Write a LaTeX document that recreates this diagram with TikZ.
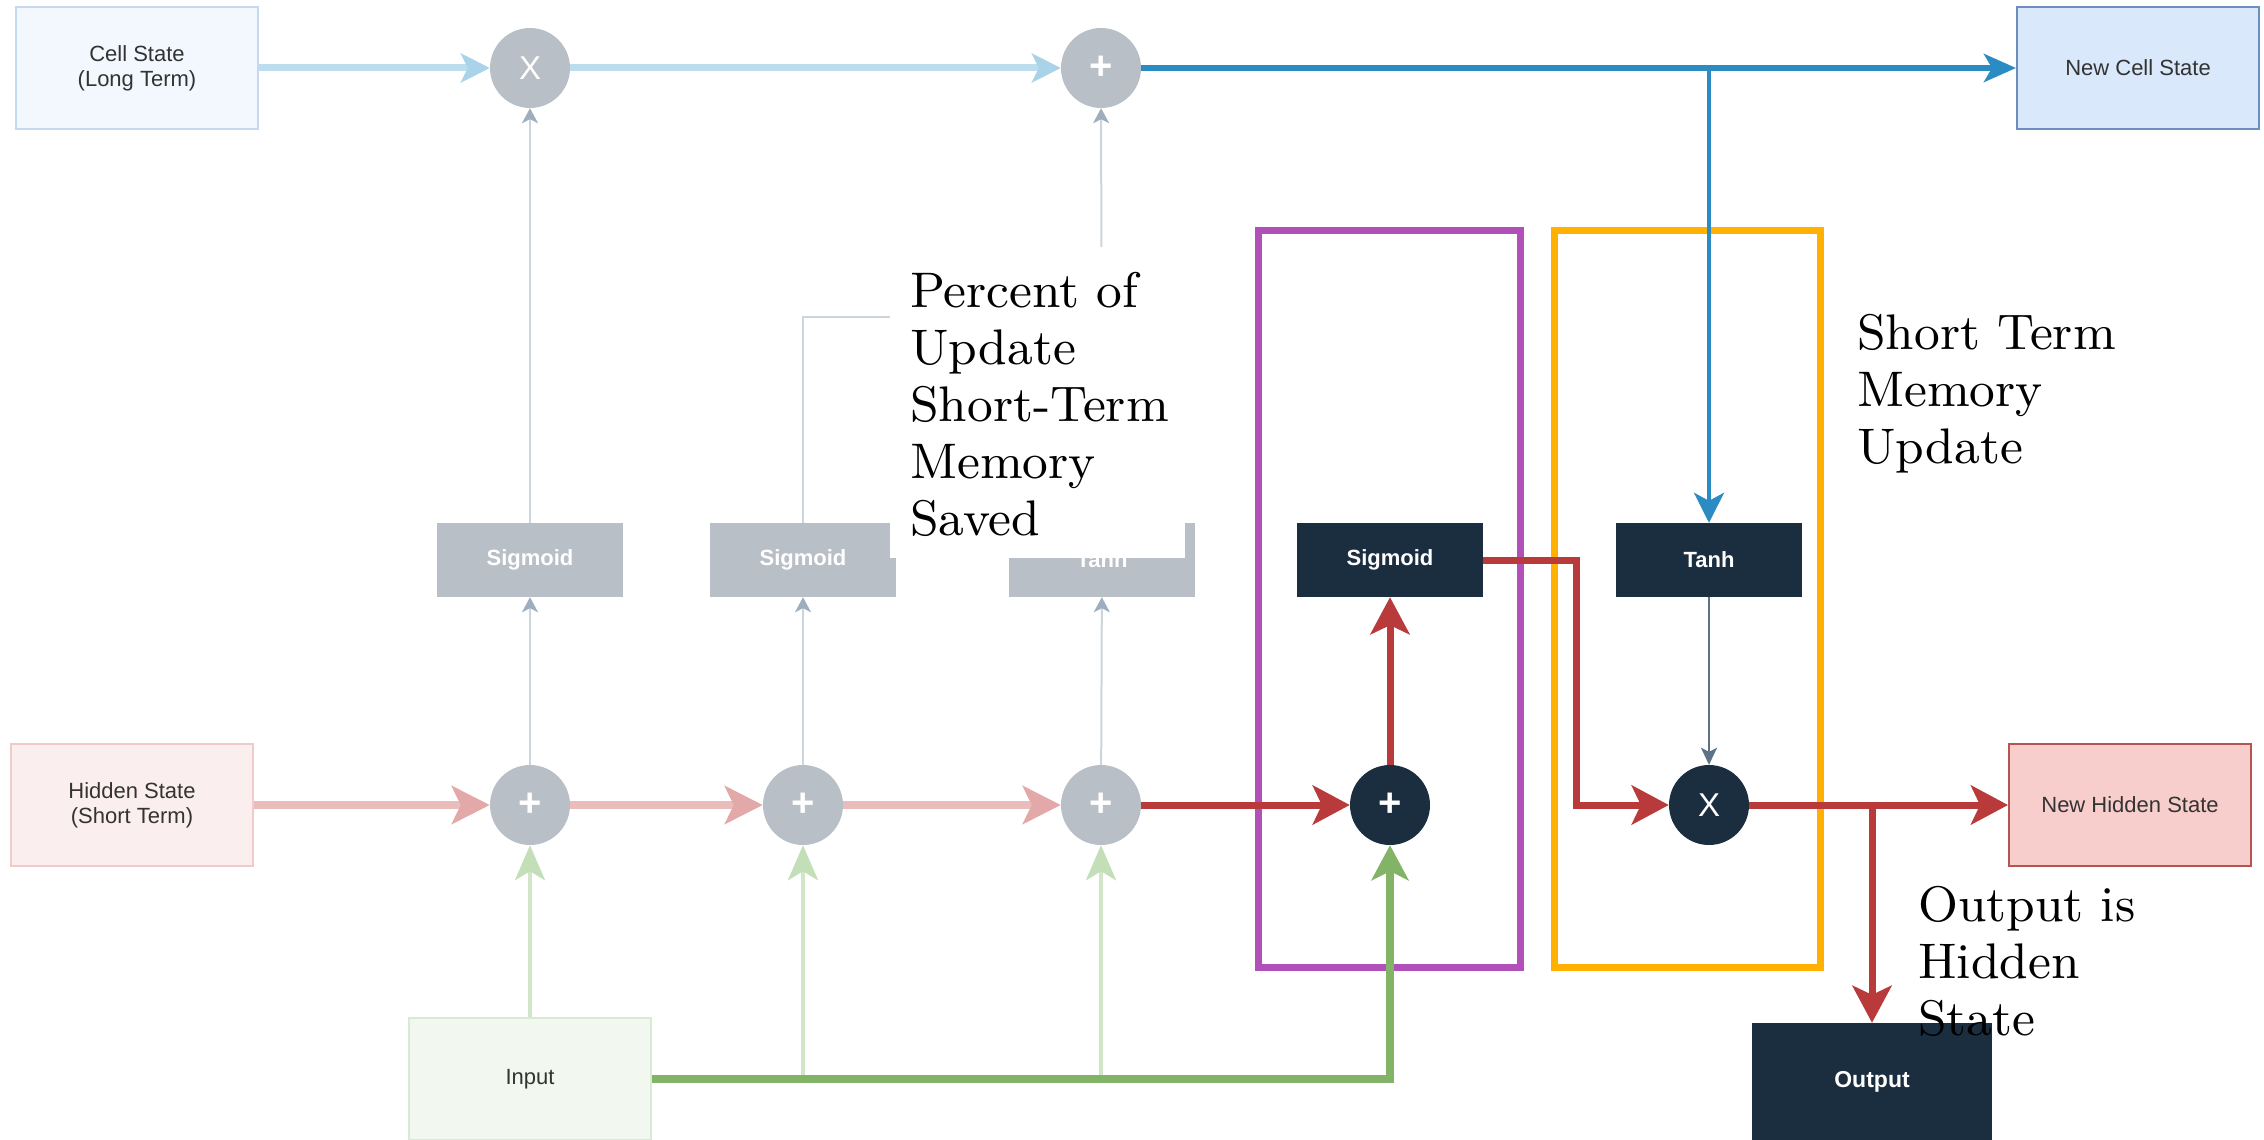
\documentclass[tikz,border=0pt]{standalone}
\usepackage{fontspec}
\newfontfamily\arialf{Liberation Sans}
\newfontfamily\notefont{lmroman9-regular.otf}
\usetikzlibrary{arrows.meta}
\definecolor{navy}{HTML}{1B2E3F}
\definecolor{gatecol}{HTML}{B8BFC6}
\definecolor{lbluec}{HTML}{BCDDED}
\definecolor{lbluetip}{HTML}{A8D3E9}
\definecolor{dbluec}{HTML}{2B8CC4}
\definecolor{lredc}{HTML}{EBBCBC}
\definecolor{lredtip}{HTML}{E3A9A9}
\definecolor{dredc}{HTML}{B83A3A}
\definecolor{lgreenc}{HTML}{D1E6C9}
\definecolor{lgreentip}{HTML}{C3DFB8}
\definecolor{dgreenc}{HTML}{82B366}
\definecolor{glinec}{HTML}{CCD4DC}
\definecolor{gtipc}{HTML}{9EAEBE}
\definecolor{slatec}{HTML}{5E7286}
\definecolor{purplec}{HTML}{B050B8}
\definecolor{orangec}{HTML}{FFB000}
\definecolor{cellfill}{HTML}{F3F8FE}
\definecolor{celldraw}{HTML}{C5DAEF}
\definecolor{ncellfill}{HTML}{DAE8FC}
\definecolor{ncelldraw}{HTML}{6C8EBF}
\definecolor{hidfill}{HTML}{FBEEEE}
\definecolor{hiddraw}{HTML}{F1CBCA}
\definecolor{nhidfill}{HTML}{F8CECC}
\definecolor{nhiddraw}{HTML}{B85450}
\definecolor{infill}{HTML}{F2F8F0}
\definecolor{indraw}{HTML}{D7EAD3}
\definecolor{txtgray}{HTML}{333333}
\begin{document}
\begin{tikzpicture}[x=1pt,y=-1pt,
  statebox/.style={draw, line width=2pt, minimum width=242pt, minimum height=122pt, inner sep=0pt,
    font=\arialf\fontsize{22}{25}\selectfont, text=txtgray, align=center},
  gatebox/.style={minimum width=186pt, minimum height=74pt, inner sep=0pt,
    font=\arialf\bfseries\fontsize{22}{25}\selectfont, text=white},
  fadedgate/.style={gatebox, fill=gatecol},
  darkgate/.style={gatebox, fill=navy},
  opcirc/.style={circle, minimum size=80pt, inner sep=0pt, text=white},
  plusfont/.style={font=\arialf\bfseries\fontsize{40}{40}\selectfont},
  xfont/.style={font=\arialf\fontsize{33}{33}\selectfont},
  note/.style={anchor=north west, inner sep=0pt, align=left, font=\notefont\fontsize{50}{57}\selectfont},
  hlbox/.style={line width=7pt},
  lblue/.style={draw=lbluec, line width=7pt, -{Stealth[length=29pt,width=29pt,inset=7pt,color=lbluetip]}},
  dblue/.style={draw=dbluec, line width=6pt, -{Stealth[length=32pt,width=28pt,inset=8pt]}},
  dbluethin/.style={draw=dbluec, line width=4pt, -{Stealth[length=30pt,width=30pt,inset=8pt]}},
  lred/.style={draw=lredc, line width=8pt, -{Stealth[length=38pt,width=38pt,inset=9pt,color=lredtip]}},
  dred/.style={draw=dredc, line width=7pt, -{Stealth[length=37pt,width=39pt,inset=9pt]}},
  lgreen/.style={draw=lgreenc, line width=4pt, -{Stealth[length=35pt,width=30pt,inset=9pt,color=lgreentip]}},
  dgreen/.style={draw=dgreenc, line width=8pt, -{Stealth[length=35pt,width=37pt,inset=9pt]}},
  gline/.style={draw=glinec, line width=2pt, -{Stealth[length=15pt,width=16pt,inset=4pt,color=gtipc]}},
  dline/.style={draw=slatec, line width=2pt, -{Stealth[length=17pt,width=16pt,inset=4pt]}}
]
\useasboundingbox (0,0) rectangle (2264,1140);

% highlight boxes
\draw[hlbox, purplec] (1258,230) rectangle (1520,967);
\draw[hlbox, orangec] (1554,230) rectangle (1820,967);

% state boxes
\node[statebox, fill=cellfill, draw=celldraw] (cell) at (137,68) {Cell State\\(Long Term)};
\node[statebox, fill=ncellfill, draw=ncelldraw] (newcell) at (2138,68) {New Cell State};
\node[statebox, fill=hidfill, draw=hiddraw] (hidden) at (132,805) {Hidden State\\(Short Term)};
\node[statebox, fill=nhidfill, draw=nhiddraw] (newhidden) at (2130,805) {New Hidden State};
\node[statebox, fill=infill, draw=indraw] (input) at (530,1079) {Input};
\node[gatebox, fill=navy, minimum width=240pt, minimum height=118pt, font=\arialf\bfseries\fontsize{23}{25}\selectfont] (out) at (1872,1082) {Output};

% gates
\node[fadedgate] (sig1) at (530,560) {Sigmoid};
\node[fadedgate] (sig2) at (803,560) {Sigmoid};
\node[fadedgate] (tanh1) at (1102,560) {Tanh};
\node[darkgate] (sigd) at (1390,560) {Sigmoid};
\node[darkgate] (tanhd) at (1709,560) {Tanh};

% operators
\node[opcirc, fill=gatecol, xfont] (mul1) at (530,68) {X};
\node[opcirc, fill=gatecol, plusfont] (add1) at (1101,68) {+};
\node[opcirc, fill=gatecol, plusfont] (addh1) at (530,805) {+};
\node[opcirc, fill=gatecol, plusfont] (addh2) at (803,805) {+};
\node[opcirc, fill=gatecol, plusfont] (addh3) at (1101,805) {+};
\node[opcirc, fill=navy, plusfont] (addd) at (1390,805) {+};
\node[opcirc, fill=navy, xfont] (muld) at (1709,805) {X};

% cell state path
\draw[lblue] (cell) -- (mul1);
\draw[lblue] (mul1) -- (add1);
\draw[dblue] (add1) -- (newcell);
\draw[dbluethin] (add1 -| tanhd) -- (tanhd);

% gray gate connectors
\draw[gline] (addh1) -- (sig1);
\draw[gline] (sig1) -- (mul1);
\draw[gline] (addh2) -- (sig2);
\coordinate (g2) at (890,317);
\draw[draw=glinec, line width=2pt] (sig2.north) |- (g2);
\draw[gline] (addh3) -- (tanh1);
\draw[gline] (tanh1) -- (add1);

% hidden state path
\draw[lred] (hidden) -- (addh1);
\draw[lred] (addh1) -- (addh2);
\draw[lred] (addh2) -- (addh3);
\draw[dred] (addh3) -- (addd);
\draw[dred] (addd) -- (sigd);
\coordinate (rj) at (1576,805);
\draw[dred, -] (sigd.east) -| (rj);
\draw[dred, shorten <=-3.5pt] (rj) -- (muld);
\draw[dred] (muld) -- (newhidden);
\draw[dred] (muld -| out) -- (out);
\draw[dline] (tanhd) -- (muld);

% input path
\draw[lgreen] (input) -- (addh1);
\draw[lgreen] (input -| addh2) -- (addh2);
\draw[lgreen] (input -| addh3) -- (addh3);
\draw[dgreen] (input) -| (addd);

% notes
\fill[white] (890,247) rectangle (1185,558);
\node[note] (pct) at (910,272) {Percent of\\Update\\Short-Term\\Memory\\Saved};
\node[note] (stmu) at (1857,314) {Short Term\\Memory\\Update};
\node[note] (outis) at (1918,886) {Output is\\Hidden\\State};
\end{tikzpicture}
\end{document}
